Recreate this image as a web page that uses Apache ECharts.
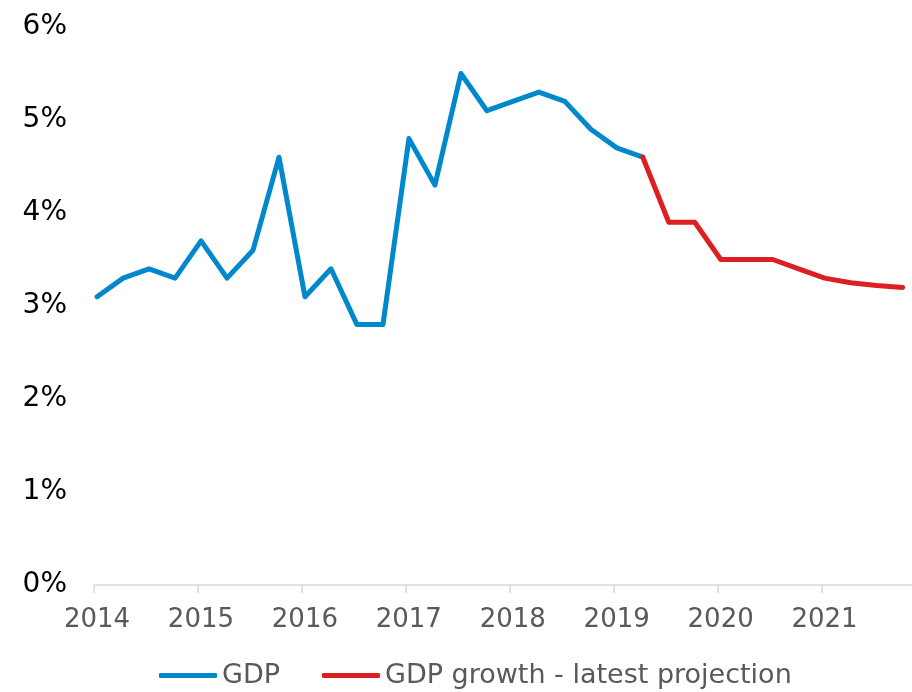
<!DOCTYPE html>
<html><head><meta charset="utf-8">
<script src="https://cdn.jsdelivr.net/npm/echarts@6/dist/echarts.min.js"></script>
<style>html,body{margin:0;padding:0;background:#fff}#c{width:912px;height:692px}</style>
</head><body><div id="c"></div>
<script>
const quarters = ["2014 Q1","2014 Q2","2014 Q3","2014 Q4","2015 Q1","2015 Q2","2015 Q3","2015 Q4",
"2016 Q1","2016 Q2","2016 Q3","2016 Q4","2017 Q1","2017 Q2","2017 Q3","2017 Q4",
"2018 Q1","2018 Q2","2018 Q3","2018 Q4","2019 Q1","2019 Q2","2019 Q3","2019 Q4",
"2020 Q1","2020 Q2","2020 Q3","2020 Q4","2021 Q1","2021 Q2","2021 Q3","2021 Q4"];
const gdp = [3.1,3.3,3.4,3.3,3.7,3.3,3.6,4.6,3.1,3.4,2.8,2.8,4.8,4.3,5.5,5.1,5.2,5.3,5.2,4.9,4.7,4.6,
null,null,null,null,null,null,null,null,null,null];
const projection = [null,null,null,null,null,null,null,null,null,null,null,null,null,null,null,null,
null,null,null,null,null,4.6,3.9,3.9,3.5,3.5,3.5,3.4,3.3,3.25,3.22,3.2];
const yTicks = [0,1,2,3,4,5,6];

function qx(q){ const p=q.split(" Q"); return +p[0] + (+p[1]-1)/4 + 0.03; }
const font = "DejaVu Sans, Verdana, sans-serif";
const chart = echarts.init(document.getElementById('c'), null, {renderer:'canvas'});
chart.setOption({
  animation:false,
  grid:{left:94,right:0,top:27,bottom:107,containLabel:false},
  legend:{bottom:-2,left:154,itemWidth:58,itemHeight:5,itemGap:42,
    icon:'roundRect',
    textStyle:{fontFamily:font,fontSize:27,color:'#595959'},
    data:['GDP','GDP growth - latest projection']},
  xAxis:{type:'value',min:2014,max:2021.87,interval:1,
    axisLine:{show:true,lineStyle:{color:'#d9d9d9',width:1.5}},
    axisTick:{show:true,length:8,lineStyle:{color:'#d9d9d9',width:1.5}},
    splitLine:{show:false},
    axisLabel:{fontFamily:font,fontSize:26,color:'#595959',margin:22,padding:[0,0,0,6],
      formatter:v=>Number.isInteger(v)?String(v):'' ,showMaxLabel:false}},
  yAxis:{type:'value',min:yTicks[0],max:yTicks[yTicks.length-1],interval:1,
    axisLine:{show:false},axisTick:{show:false},splitLine:{show:false},
    axisLabel:{fontFamily:font,fontSize:28,color:'#000',margin:27,formatter:v=>v+'%'}},
  series:[
    {name:'GDP',type:'line',symbol:'none',connectNulls:false,
      lineStyle:{width:5,color:'#0088cc',join:'round',cap:'round'},itemStyle:{color:'#0088cc'},
      data:quarters.map((q,i)=>[qx(q),gdp[i]])},
    {name:'GDP growth - latest projection',type:'line',symbol:'none',
      lineStyle:{width:5,color:'#dd1f22',join:'round',cap:'round'},itemStyle:{color:'#dd1f22'},
      data:quarters.map((q,i)=>[qx(q),projection[i]])}
  ]
});
</script></body></html>
